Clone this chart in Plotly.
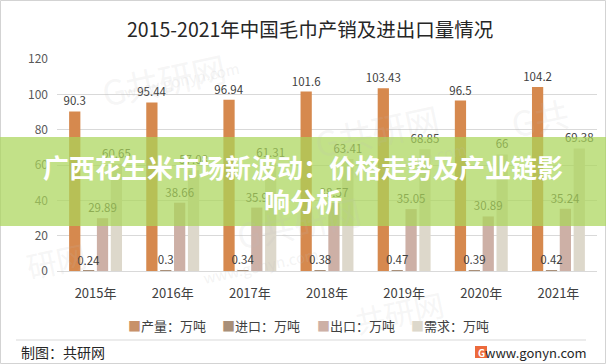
import plotly.graph_objects as go

# ---- data ----
years = ["2015年", "2016年", "2017年", "2018年", "2019年", "2020年", "2021年"]
production = [90.3, 95.44, 96.94, 101.6, 103.43, 96.5, 104.2]
imports = [0.24, 0.3, 0.34, 0.38, 0.47, 0.39, 0.42]
exports = [29.89, 38.66, 35.9, 38.57, 35.05, 30.89, 35.24]
demand = [60.65, 57.08, 61.31, 63.41, 68.85, 66, 69.38]
series_names = ["产量：万吨", "进口：万吨", "出口：万吨", "需求：万吨"]
series_colors = ["#D6894E", "#A98F78", "#CDB0A6", "#DDD8CB"]
legend_colors = ["#C8916A", "#A98F78", "#CDB0A6", "#DDD8CB"]
y_ticks = [0, 20, 40, 60, 80, 100, 120]

title_text = "2015-2021年中国毛巾产销及进出口量情况"
banner_text = "广西花生米市场新波动：价格走势及产业链影<br>响分析"

W, H = 606, 364
ML, MR, MT, MB = 57, 9, 59, 93
PW, PH = W - ML - MR, H - MT - MB

def px(x):
    return (x - ML) / PW

def py(y):
    return (H - MB - y) / PH

FONT = "Noto Sans CJK SC, Microsoft YaHei, sans-serif"

fig = go.Figure()
all_series = [production, imports, exports, demand]
# visible bars
for i, (name, vals, col) in enumerate(zip(series_names, all_series, series_colors)):
    fig.add_trace(go.Bar(
        x=years, y=vals, name=name, marker_color=col, marker_line_width=0,
        offsetgroup=str(i), showlegend=False, hoverinfo="skip",
    ))
# transparent twin bars carrying the value labels, drawn on top
for i, (name, vals) in enumerate(zip(series_names, all_series)):
    fig.add_trace(go.Bar(
        x=years, y=vals, name=name, marker_color="rgba(0,0,0,0)", marker_line_width=0,
        offsetgroup=str(i), text=[str(v) for v in vals], textposition="outside",
        constraintext="none", cliponaxis=False,
        textfont=dict(size=11.5, color="#404040", family=FONT),
        showlegend=False,
    ))

shapes = []
shapes.append(dict(type="rect", xref="paper", yref="paper",
                   x0=px(0.5), x1=px(W - 0.5), y0=py(0.5), y1=py(H - 0.5),
                   line=dict(color="#D3D3D3", width=1), layer="below"))
shapes.append(dict(type="line", xref="paper", yref="paper",
                   x0=px(16), x1=px(586), y0=py(340), y1=py(340),
                   line=dict(color="#D9D9D9", width=1)))
shapes.append(dict(type="rect", xref="paper", yref="paper",
                   x0=px(0), x1=px(W), y0=py(226), y1=py(137),
                   fillcolor="rgba(170,214,90,0.72)", line_width=0, layer="above"))
shapes.append(dict(type="rect", xref="paper", yref="paper",
                   x0=px(475), x1=px(487), y0=py(358), y1=py(346),
                   fillcolor="#EC6A3C", line_width=0))

annotations = []
annotations.append(dict(text=title_text, x=px(310), y=py(29), xref="paper", yref="paper",
                        showarrow=False, font=dict(size=19.5, color="#262626", family=FONT),
                        xanchor="center", yanchor="middle"))
wm = [(95, 40, "G共研网", 34), (445, 130, "G共研网", 34), (230, 262, "G共研网", 34),
      (575, 85, "G共", 34), (450, 345, "共研网", 30), (20, 290, "研网", 30)]
for x, y, t, s in wm:
    annotations.append(dict(text=t, x=px(x), y=py(y), xref="paper", yref="paper",
                            showarrow=False, textangle=-12,
                            font=dict(size=s, color="rgba(190,190,190,0.14)", family=FONT)))
wmt = [(120, 55, "www.gonyn.com"), (470, 160, "www.gonyn.com"), (260, 290, "www.gonyn.com")]
for x, y, t in wmt:
    annotations.append(dict(text=t, x=px(x), y=py(y), xref="paper", yref="paper",
                            showarrow=False, textangle=-12,
                            font=dict(size=15, color="rgba(190,190,190,0.18)", family=FONT)))
annotations.append(dict(text=banner_text, x=px(303), y=py(183), xref="paper", yref="paper",
                        showarrow=False, align="center", xanchor="center", yanchor="middle",
                        font=dict(size=26, color="white", family="Noto Sans CJK SC", weight="bold")))
lx = [126, 220, 315, 409]
for x, name, col in zip(lx, series_names, legend_colors):
    annotations.append(dict(text=f"<span style='color:{col}'>■</span>{name}",
                            x=px(x), y=py(325), xref="paper", yref="paper",
                            showarrow=False, xanchor="left", yanchor="middle",
                            font=dict(size=13, color="#404040", family=FONT)))
annotations.append(dict(text="制图：共研网", x=px(19), y=py(352), xref="paper", yref="paper",
                        showarrow=False, xanchor="left", yanchor="middle",
                        font=dict(size=14, color="#262626", family=FONT)))
annotations.append(dict(text="G", x=px(481), y=py(352), xref="paper", yref="paper",
                        showarrow=False, xanchor="center", yanchor="middle",
                        font=dict(size=10, color="white", family=FONT, weight="bold")))
annotations.append(dict(text="www.gonyn.com", x=px(589), y=py(352), xref="paper", yref="paper",
                        showarrow=False, xanchor="right", yanchor="middle",
                        font=dict(size=13, color="#262626", family=FONT)))

fig.update_layout(
    width=W, height=H, autosize=False,
    margin=dict(l=ML, r=MR, t=MT, b=MB, pad=0),
    paper_bgcolor="white", plot_bgcolor="white",
    barmode="group", bargap=0.28, bargroupgap=0.19,
    font=dict(family=FONT, color="#595959"),
    shapes=shapes, annotations=annotations, showlegend=False,
    xaxis=dict(type="category", showgrid=False, showline=True, linecolor="#D9D9D9",
               linewidth=1, ticks="", tickfont=dict(size=13, color="#404040"),
               ticklabelstandoff=10, fixedrange=True),
    yaxis=dict(range=[0, 120], tickvals=y_ticks, showgrid=True, gridcolor="#D9D9D9",
               gridwidth=1, zeroline=False, showline=False, ticks="",
               tickfont=dict(size=12, color="#595959"), ticklabelstandoff=8,
               fixedrange=True),
)

fig.write_html("out.html", config={"displayModeBar": False},
               post_script="document.body.style.margin='0';document.body.style.overflow='hidden';")
